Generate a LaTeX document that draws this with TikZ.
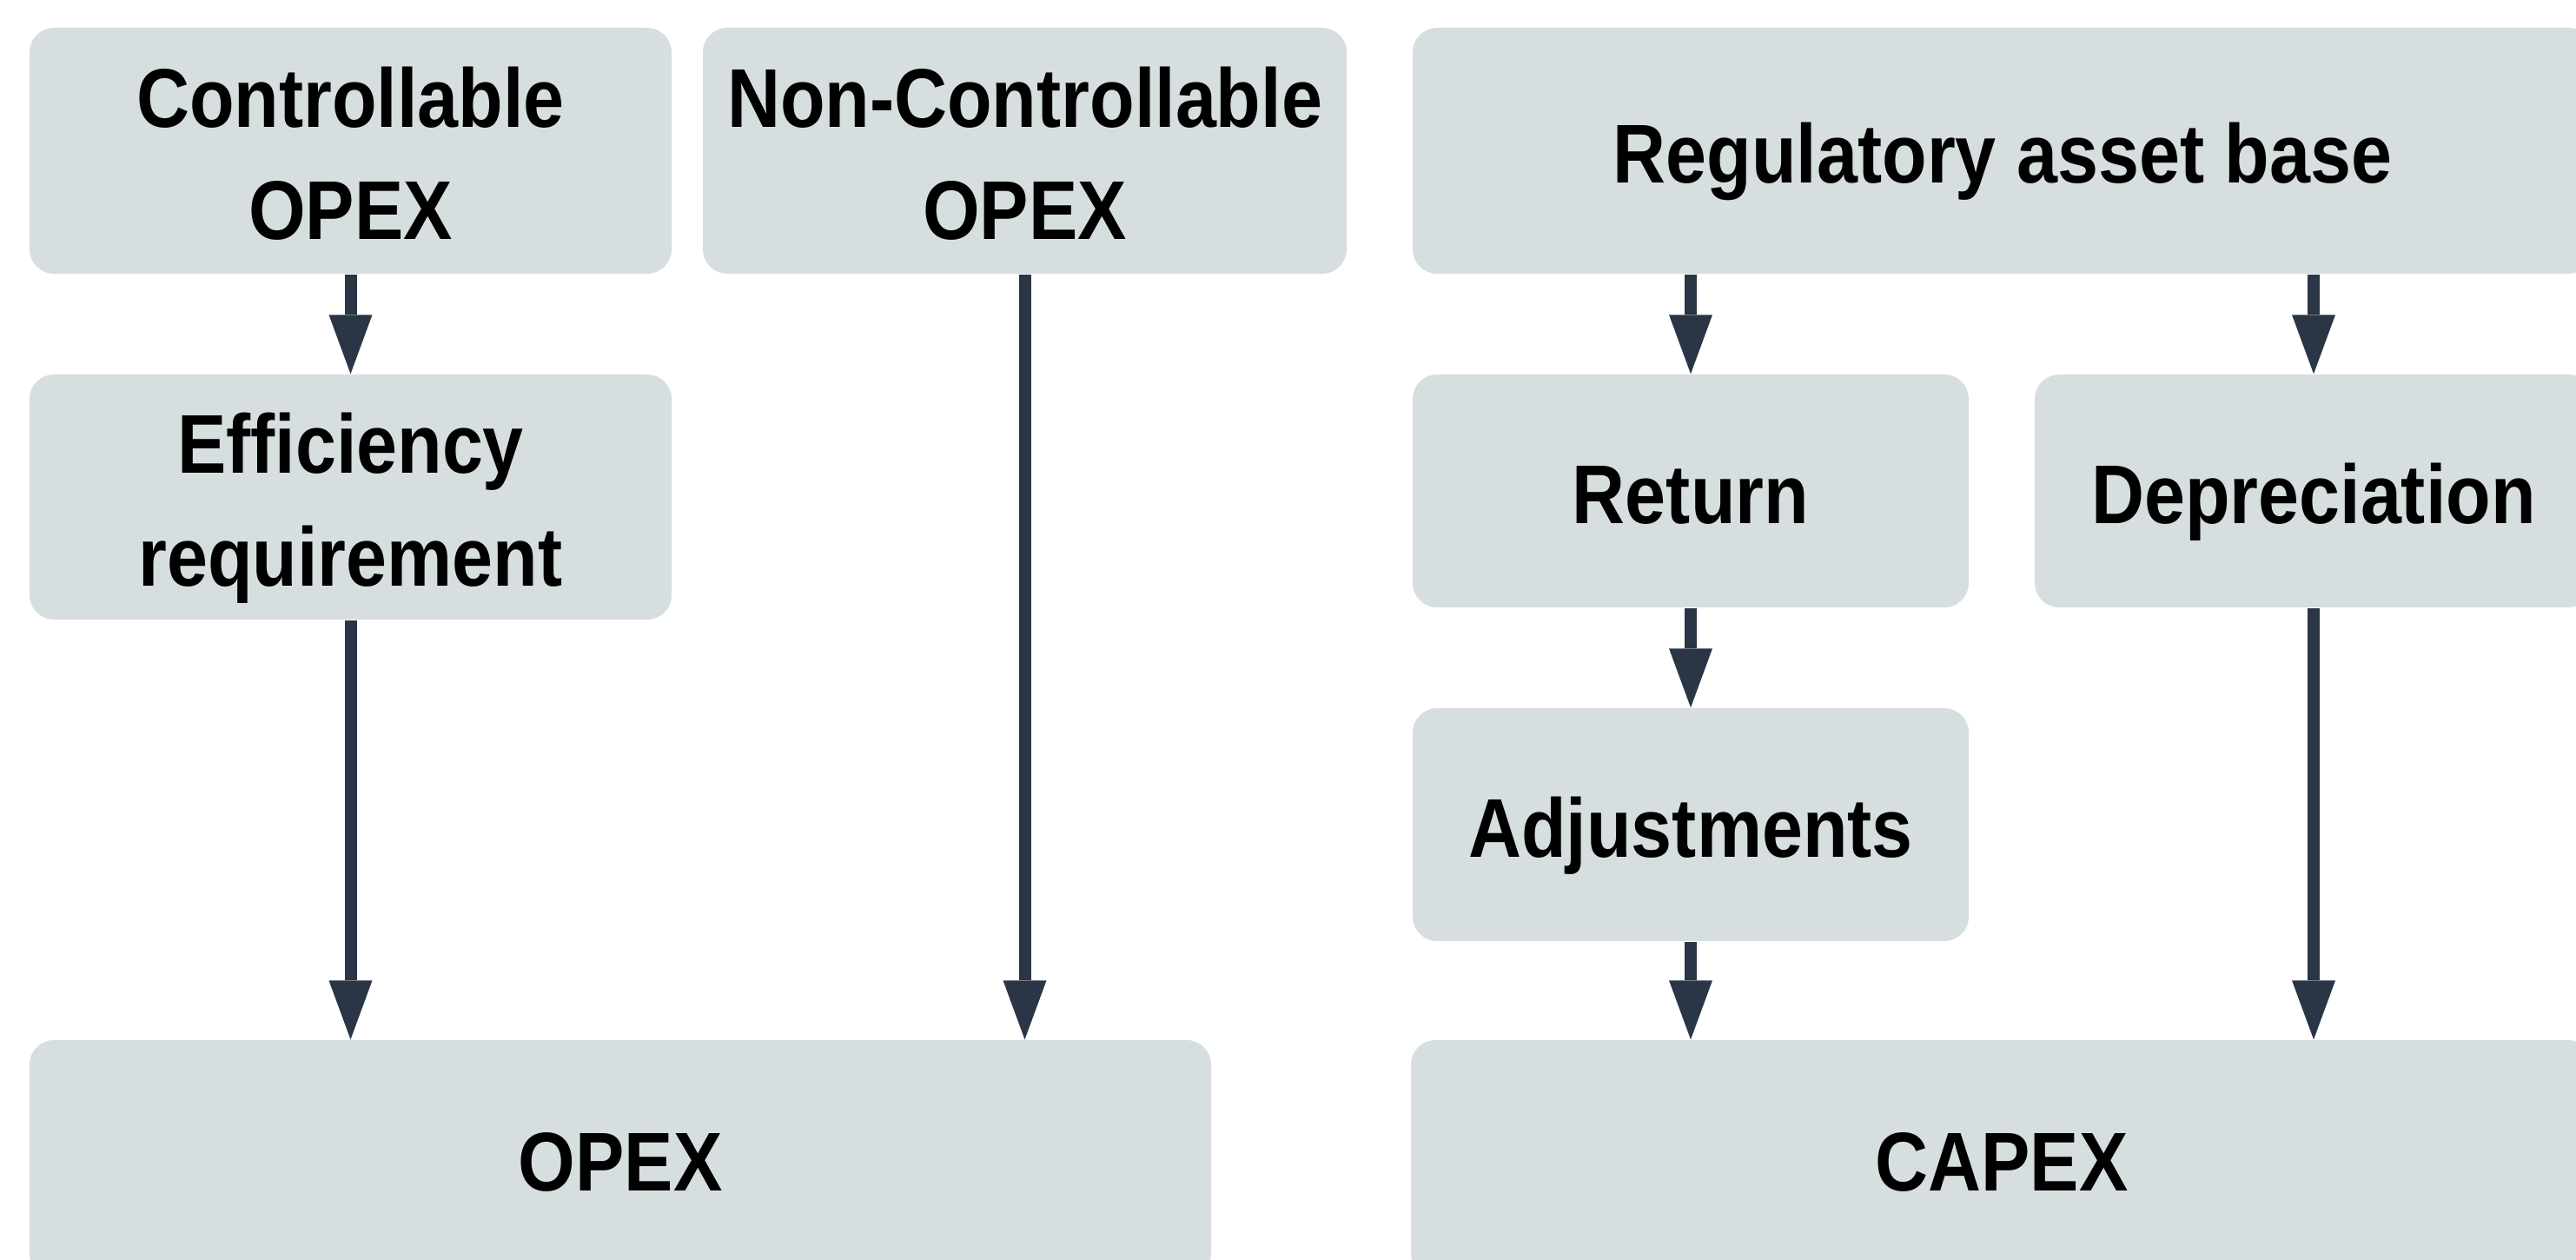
\documentclass[tikz,border=0pt]{standalone}
\usepackage{fontspec}
\setmainfont{Liberation Sans}[FakeStretch=0.88]
\usepackage{tikz}
\usetikzlibrary{arrows.meta}
\definecolor{boxgrey}{HTML}{D6DEE0}
\definecolor{arrowdark}{HTML}{2A3645}
% strut so that every line sits on the same cap band
\newcommand{\capstrut}{\rule[-0.22em]{0pt}{1.22em}}
\tikzstyle{stage}=[rectangle, rounded corners=0.28cm, fill=boxgrey, inner sep=0pt, align=center,
  font=\fontsize{27.3}{36.9}\selectfont\bfseries]
\tikzstyle{flow}=[color=arrowdark, line width=0.14cm, -{Triangle[width=0.5cm,length=0.68cm,line width=0pt]}]
\newcommand{\stage}{\node[stage]}

\begin{document}
\begin{tikzpicture}
            \useasboundingbox (0,0) rectangle (29.65,14.49);

            % OPEX side
            \stage (ctrl) at (4.035,12.755) [minimum width=7.39cm, minimum height=2.83cm]{\capstrut Controllable\\OPEX\capstrut};
            \stage (nonctrl) at (11.795,12.755) [minimum width=7.41cm, minimum height=2.83cm]{\capstrut Non-Controllable\\OPEX\capstrut};
            \stage (eff) at (4.035,8.77) [minimum width=7.39cm, minimum height=2.82cm]{\capstrut Efficiency\\requirement\capstrut};
            \stage (opex) at (7.14,1.155) [minimum width=13.60cm, minimum height=2.73cm]{\capstrut OPEX};

            % CAPEX side
            \stage (rab) at (23.05,12.755) [minimum width=13.58cm, minimum height=2.83cm]{\capstrut Regulatory asset base};
            \stage (ret) at (19.46,8.84) [minimum width=6.40cm, minimum height=2.68cm]{\capstrut Return};
            \stage (depr) at (26.63,8.84) [minimum width=6.42cm, minimum height=2.68cm]{\capstrut Depreciation};
            \stage (adj) at (19.46,5.00) [minimum width=6.40cm, minimum height=2.68cm]{\capstrut Adjustments};
            \stage (capex) at (23.04,1.155) [minimum width=13.60cm, minimum height=2.73cm]{\capstrut CAPEX};

            \draw[flow] (ctrl.south) -- (eff.north);
            \draw[flow] (eff.south) -- (eff.south |- opex.north);
            \draw[flow] (nonctrl.south) -- (nonctrl.south |- opex.north);
            \draw[flow] (ret.north |- rab.south) -- (ret.north);
            \draw[flow] (depr.north |- rab.south) -- (depr.north);
            \draw[flow] (ret.south) -- (adj.north);
            \draw[flow] (adj.south) -- (adj.south |- capex.north);
            \draw[flow] (depr.south) -- (depr.south |- capex.north);
        \end{tikzpicture}
\end{document}
